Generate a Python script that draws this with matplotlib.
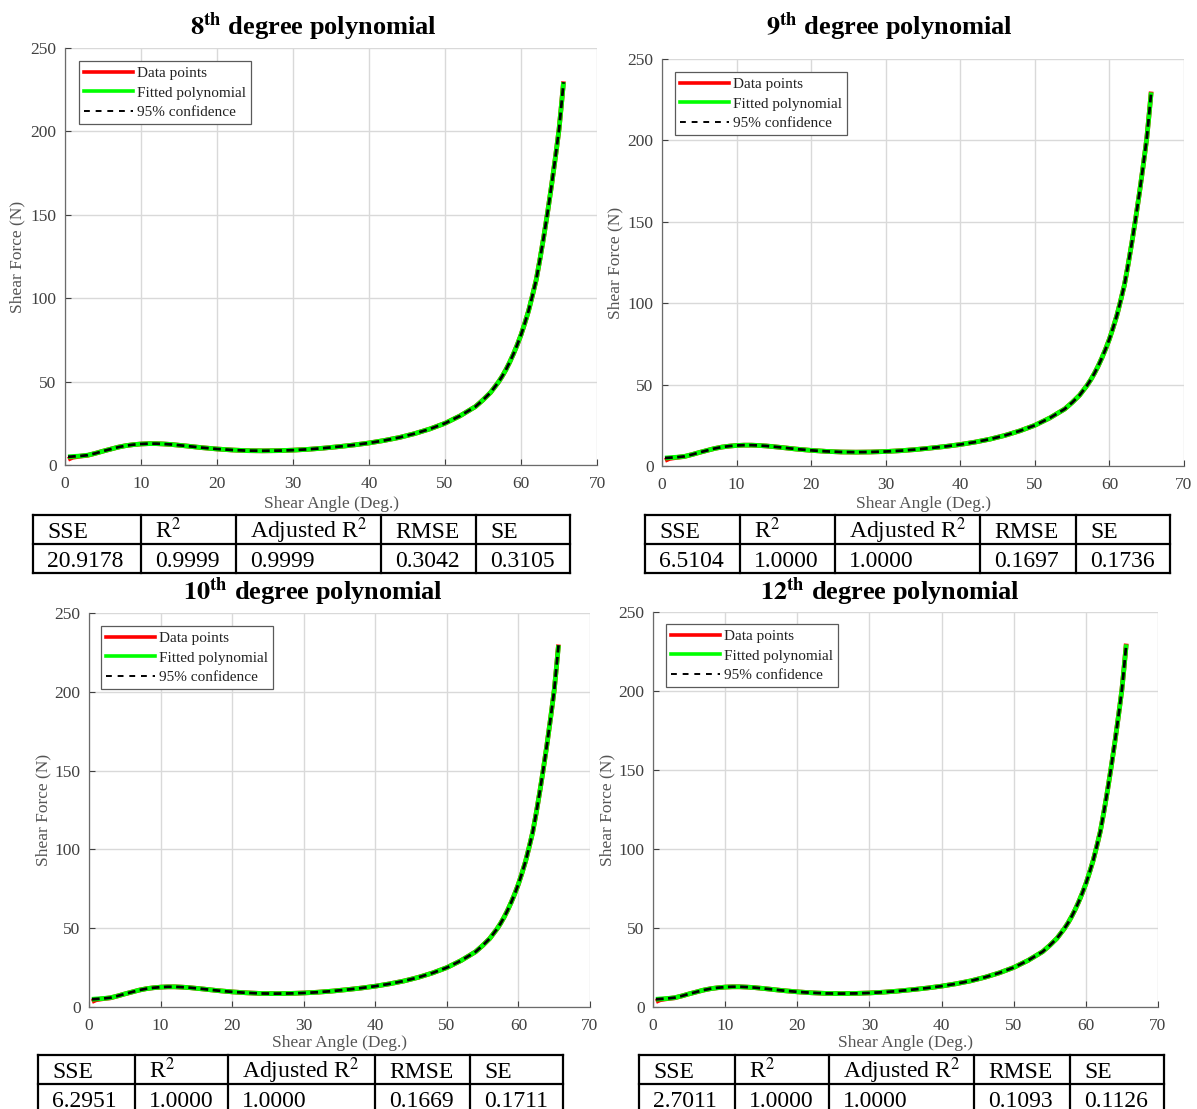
import matplotlib
matplotlib.use('Agg')
import matplotlib.pyplot as plt
from matplotlib.lines import Line2D

# ---------------- data ----------------
angle = [0.4, 1, 2, 3, 4, 5, 6, 7, 8, 9, 10, 11, 12, 13, 14, 16, 18, 20, 22, 24,
         26, 28, 30, 32, 34, 36, 38, 40, 42, 44, 46, 48, 50, 52, 54, 55, 56, 57,
         57.5, 58, 58.5, 59, 59.5, 60, 60.5, 61, 61.5, 62, 62.5, 63, 63.5, 64,
         64.5, 65, 65.3, 65.6]
force_measured = [3.4, 4.6, 5.3, 5.8, 7.0, 8.3, 9.5, 10.7, 11.6, 12.2, 12.6, 12.8,
                  12.8, 12.6, 12.3, 11.4, 10.4, 9.6, 9.0, 8.6, 8.5, 8.6, 8.9, 9.4,
                  10.1, 11.0, 12.0, 13.2, 14.7, 16.5, 18.8, 21.6, 25.0, 29.5, 35.0,
                  39.0, 43.5, 49.5, 53.0, 57.0, 61.5, 66.5, 72.0, 78.0, 85.0, 92.5,
                  101.5, 111.0, 123.5, 137.0, 151.5, 167.0, 183.5, 201.0, 215.0,
                  230.0]
force_fitted = [4.9, 5.1, 5.4, 5.9, 7.0, 8.3, 9.5, 10.7, 11.6, 12.2, 12.6, 12.8,
                12.8, 12.6, 12.3, 11.4, 10.4, 9.6, 9.0, 8.6, 8.5, 8.6, 8.9, 9.4,
                10.1, 11.0, 12.0, 13.2, 14.7, 16.5, 18.8, 21.6, 25.0, 29.5, 35.0,
                39.0, 43.5, 49.5, 53.0, 57.0, 61.5, 66.5, 72.0, 78.0, 85.0, 92.5,
                101.5, 111.0, 123.5, 137.0, 151.5, 167.0, 183.5, 201.0, 215.0,
                229.5]

degrees = ['8', '9', '10', '12']
table_headers = ['SSE', 'R$^{2}$', 'Adjusted R$^{2}$', 'RMSE', 'SE']
stats_8 = ['20.9178', '0.9999', '0.9999', '0.3042', '0.3105']
stats_9 = ['6.5104', '1.0000', '1.0000', '0.1697', '0.1736']
stats_10 = ['6.2951', '1.0000', '1.0000', '0.1669', '0.1711']
stats_12 = ['2.7011', '1.0000', '1.0000', '0.1093', '0.1126']
all_stats = [stats_8, stats_9, stats_10, stats_12]

xticks = [0, 10, 20, 30, 40, 50, 60, 70]
yticks = [0, 50, 100, 150, 200, 250]
legend_labels = ['Data points', 'Fitted polynomial', '95% confidence']

# ---------------- layout (pixels) ----------------
W, H = 1197, 1109
layout = [
    dict(ax=(65, 48, 597, 465), title=(313, 35), leg=(79, 61), ylab=17, xlab=504,
         tx=[33, 141, 236, 381, 476, 570], ty=[515, 544, 573]),
    dict(ax=(662, 59, 1184, 466), title=(889, 35), leg=(675, 72), ylab=615, xlab=504,
         tx=[645, 740, 835, 980, 1076, 1170], ty=[515, 544, 573]),
    dict(ax=(89, 613, 590, 1007), title=(313, 600), leg=(101, 626), ylab=43, xlab=1043,
         tx=[38, 135, 228, 375, 470, 563], ty=[1055, 1084, 1113]),
    dict(ax=(653, 612, 1158, 1007), title=(890, 600), leg=(666, 624), ylab=607, xlab=1043,
         tx=[639, 735, 829, 974, 1070, 1164], ty=[1055, 1084, 1113]),
]

plt.rcParams['mathtext.fontset'] = 'stix'
plt.rcParams['font.family'] = ['Liberation Serif', 'DejaVu Serif']

fig = plt.figure(figsize=(W / 100, H / 100), dpi=100)
fig.patch.set_facecolor('white')

def fx(px):
    return px / W

def fy(py):
    return 1 - py / H

tick_col = '#404040'
label_col = '#555555'

for deg, stats, L in zip(degrees, all_stats, layout):
    l, t, r, b = L['ax']
    ax = fig.add_axes([fx(l), fy(b), (r - l) / W, (b - t) / H])
    ax.plot(angle, force_measured, color='#ff0000', lw=3.4, zorder=2,
            solid_capstyle='butt')
    ax.plot(angle, force_fitted, color='#00ff00', lw=3.4, zorder=3,
            solid_capstyle='butt')
    dl, = ax.plot(angle, force_fitted, color='black', lw=2.0, zorder=4)
    dl.set_dashes([2.8, 1.6])

    ax.set_xlim(0, 70)
    ax.set_ylim(0, 250)
    ax.set_xticks(xticks)
    ax.set_yticks(yticks)
    ax.grid(True, color='#d9d9d9', lw=1.0)
    ax.set_axisbelow(True)
    for s in ['top', 'right']:
        ax.spines[s].set_visible(False)
    for s in ['left', 'bottom']:
        ax.spines[s].set_color('#6b6b6b')
        ax.spines[s].set_linewidth(0.9)
    ax.tick_params(direction='in', length=4, width=0.8, colors=tick_col,
                   labelsize=12.5)
    ax.tick_params(axis='x', pad=8)
    ax.tick_params(axis='y', pad=6)

    ax.set_xlabel('Shear Angle (Deg.)', fontsize=12.5, color=label_col, va='center')
    ax.xaxis.set_label_coords(fx((l + r) / 2), fy(L['xlab']), transform=fig.transFigure)
    ax.set_ylabel('Shear Force (N)', fontsize=12.5, color=label_col, va='center')
    ax.yaxis.set_label_coords(fx(L['ylab']), fy((t + b) / 2), transform=fig.transFigure)

    handles = [Line2D([], [], color='#ff0000', lw=2.6),
               Line2D([], [], color='#00ff00', lw=2.6),
               Line2D([], [], color='black', lw=1.4, dashes=[3, 3])]
    leg = ax.legend(handles, legend_labels, loc='upper left',
                    bbox_to_anchor=(fx(L['leg'][0]), fy(L['leg'][1])),
                    bbox_transform=fig.transFigure, borderaxespad=0,
                    fancybox=False, framealpha=1, edgecolor='#5a5a5a',
                    prop={'size': 11}, handlelength=3.2, handletextpad=0.25,
                    borderpad=0.35, labelspacing=0.38)
    leg.get_frame().set_linewidth(0.9)
    for txt in leg.get_texts():
        txt.set_color('#222222')

    fig.text(fx(L['title'][0]), fy(L['title'][1]),
             r'$\mathbf{' + deg + r'}^{\mathbf{th}}$ degree polynomial',
             ha='center', va='baseline', fontsize=19, fontweight='bold')

    # table
    tx, ty = L['tx'], L['ty']
    lw_t = 1.6
    for yy in ty:
        fig.add_artist(Line2D([fx(tx[0]), fx(tx[-1])], [fy(yy), fy(yy)],
                              color='black', lw=lw_t, transform=fig.transFigure))
    for xx in tx:
        fig.add_artist(Line2D([fx(xx), fx(xx)], [fy(ty[0]), fy(ty[-1])],
                              color='black', lw=lw_t, transform=fig.transFigure))
    for i in range(5):
        fig.text(fx(tx[i] + 14), fy(ty[1] - 6), table_headers[i],
                 ha='left', va='baseline', fontsize=17, color='black')
        fig.text(fx(tx[i] + 14), fy(ty[2] - 6), stats[i],
                 ha='left', va='baseline', fontsize=17, color='black')

fig.savefig('out.png', dpi=100, facecolor='white')
